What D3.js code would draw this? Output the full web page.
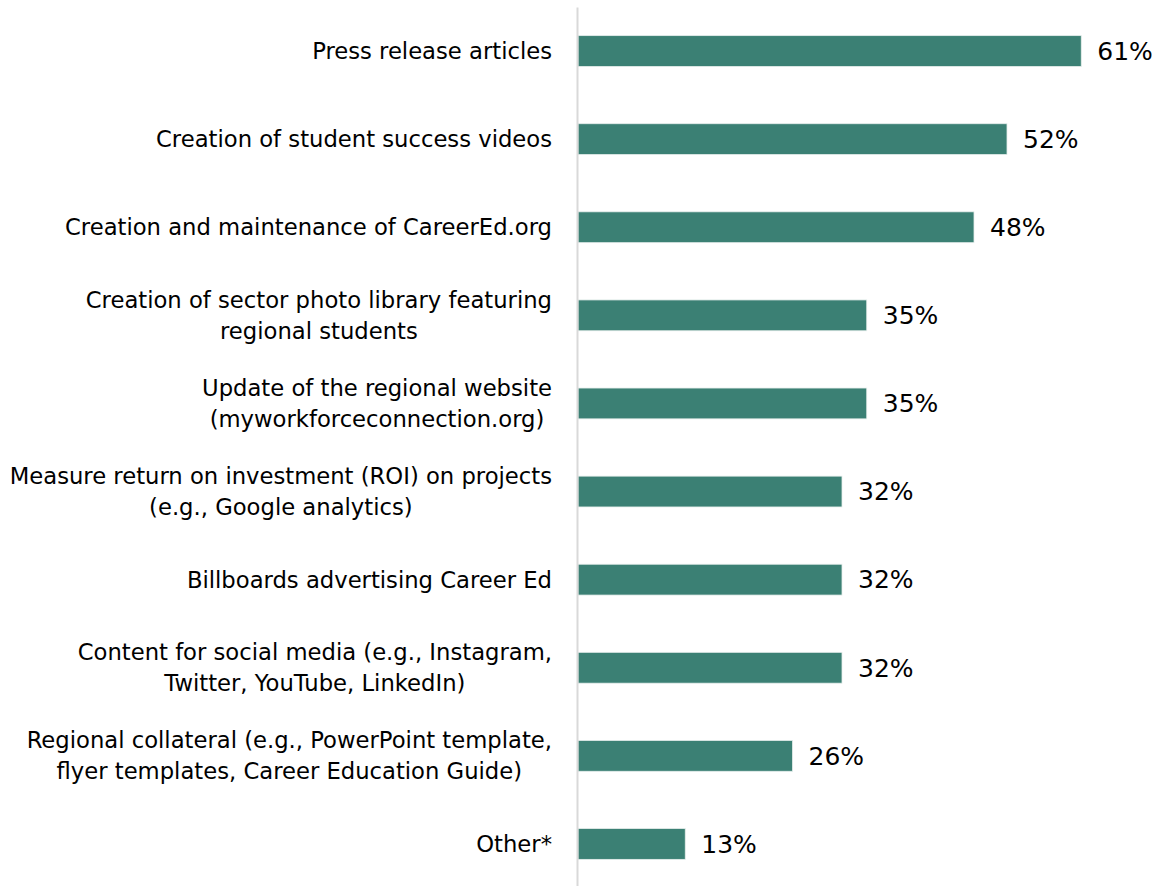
<!DOCTYPE html>
<html>
<head>
<meta charset="utf-8">
<script src="https://cdn.jsdelivr.net/npm/d3@7"></script>
<style>
  html, body { margin: 0; padding: 0; background: #fff; }
  svg text { font-family: "Century Gothic", "DejaVu Sans", sans-serif; fill: #000; }
</style>
</head>
<body>
<svg id="chart" width="1168" height="886"></svg>
<script>
// Each category label is split into the lines it is drawn on
const categories = [
  ["Press release articles"],
  ["Creation of student success videos"],
  ["Creation and maintenance of CareerEd.org"],
  ["Creation of sector photo library featuring", "regional students"],
  ["Update of the regional website", "(myworkforceconnection.org)"],
  ["Measure return on investment (ROI) on projects", "(e.g., Google analytics)"],
  ["Billboards advertising Career Ed"],
  ["Content for social media (e.g., Instagram,", "Twitter, YouTube, LinkedIn)"],
  ["Regional collateral (e.g., PowerPoint template,", "flyer templates, Career Education Guide)"],
  ["Other*"]
];
const values = [61, 52, 48, 35, 35, 32, 32, 32, 26, 13];
const valueLabels = ["61%", "52%", "48%", "35%", "35%", "32%", "32%", "32%", "26%", "13%"];

const svg = d3.select("#chart");
const axisX = 577;
const barColor = "#3b8074";
const labelSize = 22.7;
const valueSize = 25;
const lineGap = 31;

const keys = categories.map((c, i) => i);

const y = d3.scaleBand()
  .domain(keys)
  .range([7, 888])
  .paddingInner(0.65)
  .paddingOuter(0.325);

const x = d3.scaleLinear()
  .domain([0, 61])
  .range([axisX + 1, axisX + 1 + 61 * 8.25]);

// Bars
svg.append("g")
  .selectAll("rect")
  .data(values)
  .join("rect")
  .attr("x", x(0))
  .attr("y", (d, i) => y(i))
  .attr("width", d => x(d) - x(0))
  .attr("height", y.bandwidth())
  .attr("fill", barColor)
  .attr("stroke", "#e6eeec")
  .attr("stroke-width", 0.8);

// Vertical category axis
const axis = svg.append("g")
  .attr("transform", `translate(${axisX},0)`)
  .call(d3.axisLeft(y).tickSize(0).tickFormat(""));
axis.select(".domain").attr("stroke", "#d9d9d9").attr("stroke-width", 2);

// Category labels: block right-aligned, lines centered within the block
const labelRight = 552;
const labels = svg.append("g").attr("font-size", labelSize);
categories.forEach((lines, i) => {
  const cy = y(i) + y.bandwidth() / 2;
  const g = labels.append("g");
  const texts = lines.map((line, j) =>
    g.append("text")
      .attr("text-anchor", "middle")
      .attr("dy", "0.35em")
      .attr("y", cy + (j - (lines.length - 1) / 2) * lineGap)
      .text(line)
  );
  const maxW = d3.max(texts, t => t.node().getComputedTextLength());
  texts.forEach(t => t.attr("x", labelRight - maxW / 2));
});

// Value labels
svg.append("g")
  .attr("font-size", valueSize)
  .selectAll("text")
  .data(values)
  .join("text")
  .attr("x", d => x(d) + 16)
  .attr("y", (d, i) => y(i) + y.bandwidth() / 2)
  .attr("dy", "0.35em")
  .text((d, i) => valueLabels[i]);
</script>
</body>
</html>
